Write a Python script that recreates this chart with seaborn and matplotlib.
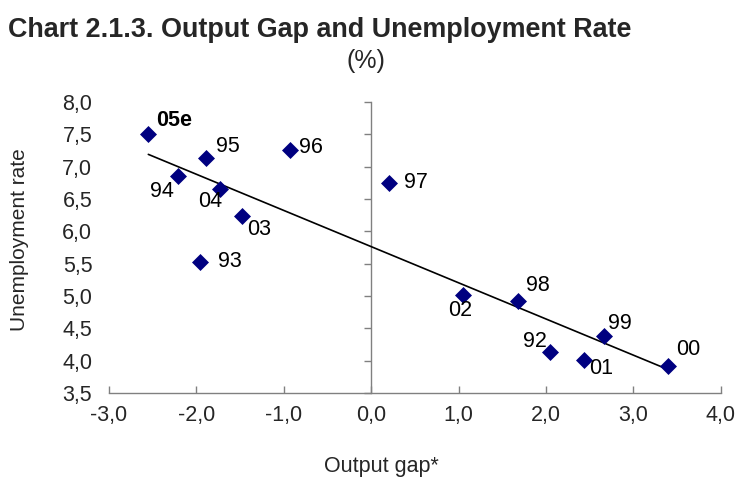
import matplotlib
matplotlib.use("Agg")
import matplotlib.pyplot as plt
import seaborn as sns
import pandas as pd
from matplotlib.ticker import FuncFormatter

# ---- data ----
years = ["05e", "95", "96", "94", "04", "03", "93", "97", "02", "98", "92", "01", "99", "00"]
output_gap = [-2.55, -1.89, -0.93, -2.21, -1.73, -1.48, -1.96, 0.20, 1.05, 1.68, 2.05, 2.43, 2.66, 3.40]
unemployment = [7.51, 7.14, 7.26, 6.85, 6.65, 6.24, 5.52, 6.75, 5.01, 4.93, 4.13, 4.01, 4.38, 3.91]
x_ticks = [-3, -2, -1, 0, 1, 2, 3, 4]
y_ticks = [3.5, 4.0, 4.5, 5.0, 5.5, 6.0, 6.5, 7.0, 7.5, 8.0]

df = pd.DataFrame({"gap": output_gap, "unemp": unemployment, "year": years})

# label offsets (pixels, text centre relative to point)
label_offsets = {
    "05e": (26, 13), "95": (22, 11), "96": (21, 2), "94": (-16, -15),
    "04": (-10, -12), "03": (17, -14), "93": (30, 1), "97": (27, 0),
    "02": (-3, -15), "98": (20, 15), "92": (-15, 11), "01": (18, -8),
    "99": (16, 13), "00": (20, 17),
}

sns.set_style("white")
plt.rcParams["font.family"] = ["Liberation Sans", "DejaVu Sans"]

fig = plt.figure(figsize=(7.37, 4.82), dpi=100)
ax = fig.add_axes([109 / 737, 1 - 393 / 482, 611.7 / 737, 291 / 482])

sns.regplot(data=df, x="gap", y="unemp", scatter=False, ci=None, truncate=True,
            color="black", line_kws={"linewidth": 1.2}, ax=ax)
sns.scatterplot(data=df, x="gap", y="unemp", marker="D", s=75, color="#000080",
                edgecolor="#000080", linewidth=0, ax=ax, zorder=3)

for x, y, lab in zip(output_gap, unemployment, years):
    dx, dy = label_offsets[lab]
    ax.annotate(lab, (x, y), xytext=(dx, dy), textcoords="offset pixels",
                ha="center", va="center", fontsize=15.5,
                fontweight="bold" if lab == "05e" else "normal", color="black")

ax.set_xlim(-3, 4)
ax.set_ylim(3.5, 8.0)
ax.set_xticks(x_ticks)
ax.set_yticks(y_ticks)
fmt = FuncFormatter(lambda v, p: f"{v:.1f}".replace(".", ","))
ax.xaxis.set_major_formatter(fmt)
ax.yaxis.set_major_formatter(fmt)

for s in ["top", "right", "left"]:
    ax.spines[s].set_visible(False)
ax.spines["bottom"].set_color("#808080")
ax.spines["bottom"].set_linewidth(1.0)
ax.tick_params(axis="x", direction="in", length=5, width=1, color="#808080",
               labelsize=15.5, pad=9, bottom=True)
ax.tick_params(axis="y", length=0, labelsize=15.5, pad=12, left=True)

# vertical axis line at x = 0 with tick marks
sec = ax.secondary_yaxis(3 / 7)
sec.set_yticks(y_ticks)
sec.set_yticklabels([])
sec.spines["left"].set_color("#808080")
sec.spines["left"].set_linewidth(1.0)
sec.tick_params(axis="y", direction="out", length=5, width=1, color="#808080", left=True)

ax.set_xlabel("Output gap*", fontsize=15.5)
ax.set_ylabel("Unemployment rate", fontsize=15)
ax.xaxis.set_label_coords(0.445, -0.215)
ax.yaxis.set_label_coords(-0.130, 0.526)

fig.text(8 / 737, 1 - 30 / 482, "Chart 2.1.3. Output Gap and Unemployment Rate",
         fontsize=19.4, fontweight="bold", ha="left", va="center")
fig.text(366 / 737, 1 - 61 / 482, "(%)", fontsize=18, ha="center", va="center")

fig.savefig("out.png", dpi=100)
